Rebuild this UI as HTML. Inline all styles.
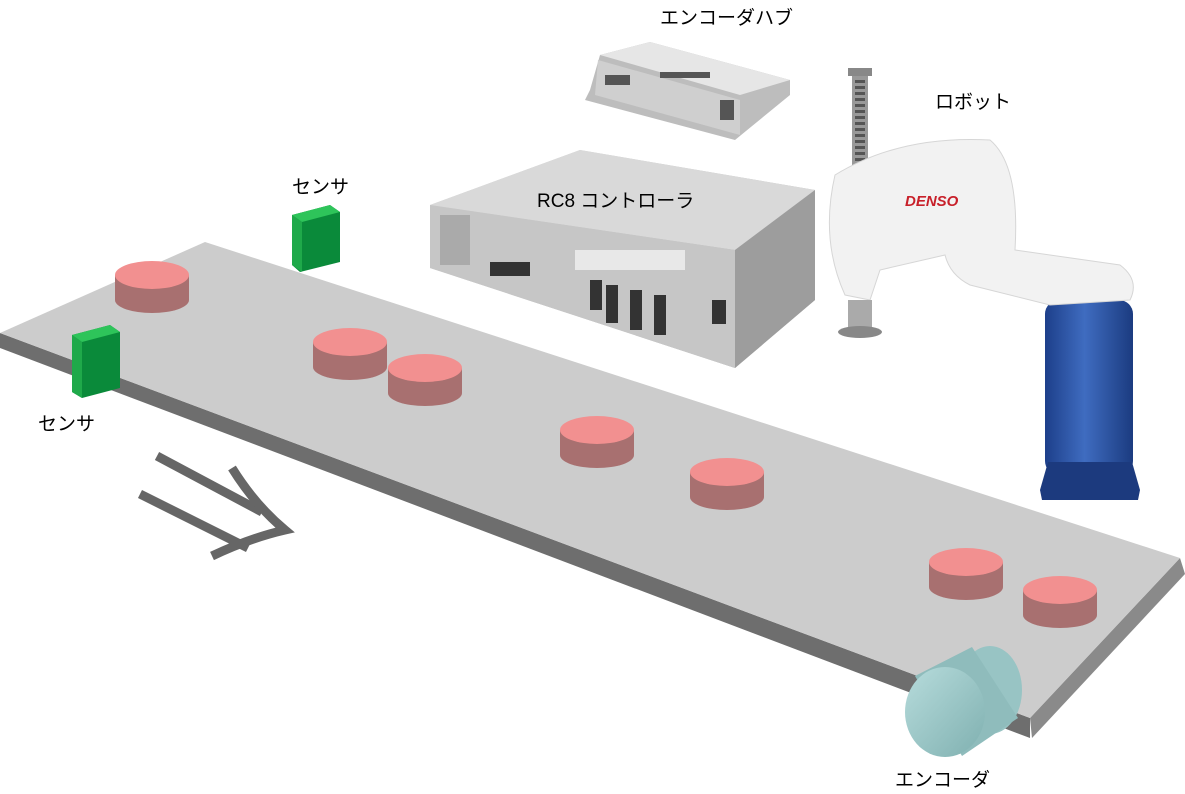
<!DOCTYPE html>
<html><head><meta charset="utf-8"><style>
html,body{margin:0;padding:0;background:#fff;}
svg{display:block}
text{font-family:"Liberation Sans","Noto Sans CJK JP",sans-serif;font-size:19px;fill:#000}
</style></head><body>
<svg width="1185" height="794" viewBox="0 0 1185 794" xmlns="http://www.w3.org/2000/svg">
<defs>
<linearGradient id="blue" x1="0" x2="1"><stop offset="0" stop-color="#1d3f8a"/><stop offset="0.45" stop-color="#3f6cc0"/><stop offset="1" stop-color="#1b3b80"/></linearGradient>
<linearGradient id="ctl" x1="0" y1="0" x2="1" y2="1"><stop offset="0" stop-color="#d8d8d8"/><stop offset="1" stop-color="#a8a8a8"/></linearGradient>
<linearGradient id="cyl" x1="0" y1="0" x2="1" y2="1"><stop offset="0" stop-color="#b7dcdc"/><stop offset="1" stop-color="#7fb0b0"/></linearGradient>
</defs>
<polygon points="0,348 1030,738 1030,718 0,333" fill="#6e6e6e"/>
<polygon points="1030,718 1180,558 1185,574 1032,738" fill="#8a8a8a"/>
<polygon points="0,333 205,242 1180,558 1030,718" fill="#cccccc"/>
<g stroke="#666" stroke-width="9" fill="none" stroke-linecap="butt">
<path d="M157,456 L262,512"/>
<path d="M140,494 L248,548"/>
<path d="M232,468 Q255,505 285,530 Q250,538 212,556"/>
</g>
<polygon points="292,215 330,205 340,212 340,262 300,272 292,265" fill="#0a8a3a"/>
<polygon points="292,215 330,205 340,212 302,222" fill="#2ec45a"/>
<polygon points="292,215 302,222 302,272 292,265" fill="#1fa94a"/>
<polygon points="72,335 110,325 120,332 120,388 82,398 72,392" fill="#0a8a3a"/>
<polygon points="72,335 110,325 120,332 82,342" fill="#2ec45a"/>
<polygon points="72,335 82,342 82,398 72,392" fill="#1fa94a"/>
<g>
<g transform="translate(152,275)"><path d="M-37,0 v25 a37,13 0 0 0 74,0 v-25z" fill="#a87070"/><ellipse rx="37" ry="14" fill="#f29090"/></g>
<g transform="translate(350,342)"><path d="M-37,0 v25 a37,13 0 0 0 74,0 v-25z" fill="#a87070"/><ellipse rx="37" ry="14" fill="#f29090"/></g>
<g transform="translate(425,368)"><path d="M-37,0 v25 a37,13 0 0 0 74,0 v-25z" fill="#a87070"/><ellipse rx="37" ry="14" fill="#f29090"/></g>
<g transform="translate(597,430)"><path d="M-37,0 v25 a37,13 0 0 0 74,0 v-25z" fill="#a87070"/><ellipse rx="37" ry="14" fill="#f29090"/></g>
<g transform="translate(727,472)"><path d="M-37,0 v25 a37,13 0 0 0 74,0 v-25z" fill="#a87070"/><ellipse rx="37" ry="14" fill="#f29090"/></g>
<g transform="translate(966,562)"><path d="M-37,0 v25 a37,13 0 0 0 74,0 v-25z" fill="#a87070"/><ellipse rx="37" ry="14" fill="#f29090"/></g>
<g transform="translate(1060,590)"><path d="M-37,0 v25 a37,13 0 0 0 74,0 v-25z" fill="#a87070"/><ellipse rx="37" ry="14" fill="#f29090"/></g>
</g>
<ellipse cx="990" cy="690" rx="32" ry="44" fill="#98c4c4"/>
<polygon points="915,676 972,647 1018,718 962,756" fill="#8fbcbc"/>
<ellipse cx="945" cy="712" rx="40" ry="45" fill="url(#cyl)"/>
<polygon points="600,55 650,42 790,80 790,95 735,140 585,100 590,90" fill="#bdbdbd"/>
<polygon points="600,55 650,42 790,80 740,95" fill="#e6e6e6"/>
<polygon points="598,60 740,100 740,135 595,95" fill="#cfcfcf"/>
<g fill="#555"><rect x="660" y="72" width="50" height="6"/><rect x="605" y="75" width="25" height="10"/><rect x="720" y="100" width="14" height="20"/></g>
<polygon points="430,205 580,150 815,190 815,300 735,368 430,268" fill="url(#ctl)"/>
<polygon points="430,205 580,150 815,190 735,250" fill="#d9d9d9"/>
<polygon points="430,205 735,250 735,368 430,268" fill="#c6c6c6"/>
<polygon points="735,250 815,190 815,300 735,368" fill="#9d9d9d"/>
<g fill="#333">
<rect x="490" y="262" width="40" height="14"/><rect x="590" y="280" width="12" height="30"/>
<rect x="606" y="285" width="12" height="38"/><rect x="630" y="290" width="12" height="40"/>
<rect x="654" y="295" width="12" height="40"/><rect x="712" y="300" width="14" height="24"/>
<rect x="440" y="215" width="30" height="50" fill="#aaa"/><rect x="575" y="250" width="110" height="20" fill="#e8e8e8"/>
</g>
<rect x="1045" y="300" width="88" height="175" rx="14" fill="url(#blue)"/>
<polygon points="1048,462 1132,462 1140,490 1138,500 1042,500 1040,490" fill="#1c3a7e"/>
<rect x="848" y="68" width="24" height="8" fill="#888"/>
<rect x="852" y="76" width="16" height="120" fill="#999"/>
<path d="M860,80 l0,110" stroke="#555" stroke-width="10" stroke-dasharray="3 3"/>
<path d="M835,175 Q900,135 990,140 Q1020,165 1015,250 L1120,265 Q1140,280 1130,300 L1050,305 L970,285 Q950,275 945,255 L880,270 L870,300 L845,295 Q820,240 835,175 Z" fill="#f2f2f2" stroke="#d6d6d6"/>
<rect x="848" y="300" width="24" height="30" fill="#aaa"/>
<ellipse cx="860" cy="332" rx="22" ry="6" fill="#888"/>
<text x="905" y="206" style="font-size:15px;font-weight:bold;font-style:italic;fill:#c8202a">DENSO</text>
<text x="660" y="24">エンコーダハブ</text>
<text x="935" y="108">ロボット</text>
<text x="292" y="193">センサ</text>
<text x="537" y="207">RC8 コントローラ</text>
<text x="38" y="430">センサ</text>
<text x="895" y="786">エンコーダ</text>
</svg>
</body></html>
